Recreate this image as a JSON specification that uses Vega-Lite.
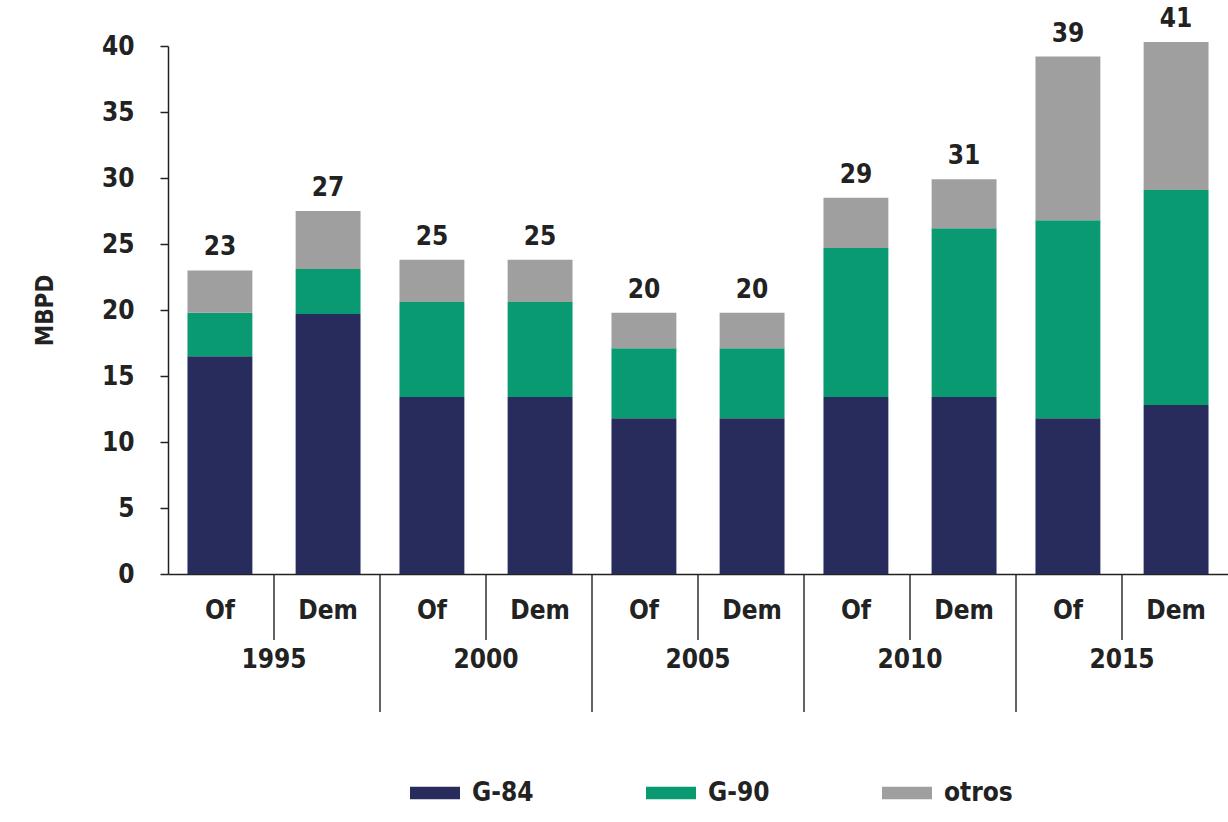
{
  "$schema": "https://vega.github.io/schema/vega-lite/v6.json",
  "width": 1060,
  "height": 528,
  "autosize": {"type": "none"},
  "padding": {"left": 168, "top": 46, "right": 0, "bottom": 248},
  "background": "white",
  "config": {
    "view": {"stroke": null},
    "font": "DejaVu Sans Condensed, Liberation Sans Narrow, Roboto, sans-serif",
    "axis": {"grid": false, "labelFont": "DejaVu Sans Condensed, Liberation Sans Narrow, Roboto, sans-serif", "titleFont": "DejaVu Sans Condensed, Liberation Sans Narrow, Roboto, sans-serif", "labelFontWeight": "bold"},
    "legend": {"labelFont": "DejaVu Sans Condensed, Liberation Sans Narrow, Roboto, sans-serif", "labelFontWeight": "bold"}
  },
  "datasets": {
    "barras": [
      {"year": "1995", "tipo": "Of", "serie": "G-84", "valor": 16.5},
      {"year": "1995", "tipo": "Of", "serie": "G-90", "valor": 3.3},
      {"year": "1995", "tipo": "Of", "serie": "otros", "valor": 3.2},
      {"year": "1995", "tipo": "Dem", "serie": "G-84", "valor": 19.7},
      {"year": "1995", "tipo": "Dem", "serie": "G-90", "valor": 3.4},
      {"year": "1995", "tipo": "Dem", "serie": "otros", "valor": 4.4},
      {"year": "2000", "tipo": "Of", "serie": "G-84", "valor": 13.4},
      {"year": "2000", "tipo": "Of", "serie": "G-90", "valor": 7.2},
      {"year": "2000", "tipo": "Of", "serie": "otros", "valor": 3.2},
      {"year": "2000", "tipo": "Dem", "serie": "G-84", "valor": 13.4},
      {"year": "2000", "tipo": "Dem", "serie": "G-90", "valor": 7.2},
      {"year": "2000", "tipo": "Dem", "serie": "otros", "valor": 3.2},
      {"year": "2005", "tipo": "Of", "serie": "G-84", "valor": 11.8},
      {"year": "2005", "tipo": "Of", "serie": "G-90", "valor": 5.3},
      {"year": "2005", "tipo": "Of", "serie": "otros", "valor": 2.7},
      {"year": "2005", "tipo": "Dem", "serie": "G-84", "valor": 11.8},
      {"year": "2005", "tipo": "Dem", "serie": "G-90", "valor": 5.3},
      {"year": "2005", "tipo": "Dem", "serie": "otros", "valor": 2.7},
      {"year": "2010", "tipo": "Of", "serie": "G-84", "valor": 13.4},
      {"year": "2010", "tipo": "Of", "serie": "G-90", "valor": 11.3},
      {"year": "2010", "tipo": "Of", "serie": "otros", "valor": 3.8},
      {"year": "2010", "tipo": "Dem", "serie": "G-84", "valor": 13.4},
      {"year": "2010", "tipo": "Dem", "serie": "G-90", "valor": 12.8},
      {"year": "2010", "tipo": "Dem", "serie": "otros", "valor": 3.7},
      {"year": "2015", "tipo": "Of", "serie": "G-84", "valor": 11.8},
      {"year": "2015", "tipo": "Of", "serie": "G-90", "valor": 15.0},
      {"year": "2015", "tipo": "Of", "serie": "otros", "valor": 12.4},
      {"year": "2015", "tipo": "Dem", "serie": "G-84", "valor": 12.8},
      {"year": "2015", "tipo": "Dem", "serie": "G-90", "valor": 16.3},
      {"year": "2015", "tipo": "Dem", "serie": "otros", "valor": 11.2}
    ],
    "totales": [
      {"year": "1995", "tipo": "Of", "total": 23.0, "etiqueta": "23"},
      {"year": "1995", "tipo": "Dem", "total": 27.5, "etiqueta": "27"},
      {"year": "2000", "tipo": "Of", "total": 23.8, "etiqueta": "25"},
      {"year": "2000", "tipo": "Dem", "total": 23.8, "etiqueta": "25"},
      {"year": "2005", "tipo": "Of", "total": 19.8, "etiqueta": "20"},
      {"year": "2005", "tipo": "Dem", "total": 19.8, "etiqueta": "20"},
      {"year": "2010", "tipo": "Of", "total": 28.5, "etiqueta": "29"},
      {"year": "2010", "tipo": "Dem", "total": 29.9, "etiqueta": "31"},
      {"year": "2015", "tipo": "Of", "total": 39.2, "etiqueta": "39"},
      {"year": "2015", "tipo": "Dem", "total": 40.3, "etiqueta": "41"}
    ],
    "divisiones": [
      {"year": "2000"},
      {"year": "2005"},
      {"year": "2010"},
      {"year": "2015"}
    ],
    "grupos": [
      {"year": "1995"},
      {"year": "2000"},
      {"year": "2005"},
      {"year": "2010"},
      {"year": "2015"}
    ]
  },
  "layer": [
    {
      "data": {"name": "barras"},
      "mark": {"type": "bar"},
      "encoding": {
        "x": {
          "field": "year", "type": "nominal",
          "scale": {"paddingInner": 0, "paddingOuter": 0},
          "axis": {
            "title": null, "ticks": false, "labelAngle": 0,
            "labelFontSize": 26, "labelColor": "#222", "labelPadding": 72,
            "domainColor": "#222", "domainWidth": 1.5
          }
        },
        "xOffset": {
          "field": "tipo", "type": "nominal", "sort": ["Of", "Dem"],
          "scale": {"paddingInner": 0.4, "paddingOuter": 0.18}
        },
        "y": {
          "field": "valor", "type": "quantitative", "stack": "zero",
          "scale": {"domain": [0, 40], "nice": false},
          "axis": {
            "title": "MBPD", "values": [0, 5, 10, 15, 20, 25, 30, 35, 40],
            "tickSize": 8, "tickColor": "#222", "tickWidth": 1.5,
            "labelFontSize": 26, "labelColor": "#222", "labelPadding": 26,
            "domainColor": "#222", "domainWidth": 1.5,
            "titleFontSize": 24, "titleFontWeight": "bold", "titleColor": "#222", "titlePadding": 44
          }
        },
        "order": {"field": "serie", "sort": "ascending"},
        "color": {
          "field": "serie", "type": "nominal",
          "scale": {"domain": ["G-84", "G-90", "otros"], "range": ["#272c5d", "#0a9a72", "#9f9f9f"]},
          "legend": {
            "title": null, "orient": "none", "direction": "horizontal",
            "legendX": 242, "legendY": 722,
            "symbolType": "M-1,-0.25L1,-0.25L1,0.25L-1,0.25Z", "symbolSize": 2500,
            "symbolStrokeWidth": 0, "symbolOpacity": 1,
            "labelFontSize": 26, "labelColor": "#222", "labelOffset": 12,
            "columnPadding": 112
          }
        }
      }
    },
    {
      "data": {"name": "totales"},
      "mark": {"type": "text", "fontSize": 26, "fontWeight": "bold", "color": "#222", "dy": -23, "baseline": "middle"},
      "encoding": {
        "x": {"field": "year", "type": "nominal"},
        "xOffset": {"field": "tipo", "type": "nominal", "sort": ["Of", "Dem"]},
        "y": {"field": "total", "type": "quantitative"},
        "text": {"field": "etiqueta"}
      }
    },
    {
      "data": {"name": "totales"},
      "mark": {"type": "text", "fontSize": 26, "fontWeight": "bold", "color": "#222", "dy": 37, "baseline": "middle"},
      "encoding": {
        "x": {"field": "year", "type": "nominal"},
        "xOffset": {"field": "tipo", "type": "nominal", "sort": ["Of", "Dem"]},
        "y": {"datum": 0},
        "text": {"field": "tipo"}
      }
    },
    {
      "data": {"name": "grupos"},
      "mark": {"type": "rule", "color": "#222", "strokeWidth": 1.4, "y2Offset": 66},
      "encoding": {
        "x": {"field": "year", "type": "nominal", "bandPosition": 0.5},
        "y": {"datum": 0},
        "y2": {"datum": 0}
      }
    },
    {
      "data": {"name": "divisiones"},
      "mark": {"type": "rule", "color": "#222", "strokeWidth": 1.4, "y2Offset": 138},
      "encoding": {
        "x": {"field": "year", "type": "nominal", "bandPosition": 0},
        "y": {"datum": 0},
        "y2": {"datum": 0}
      }
    }
  ]
}
